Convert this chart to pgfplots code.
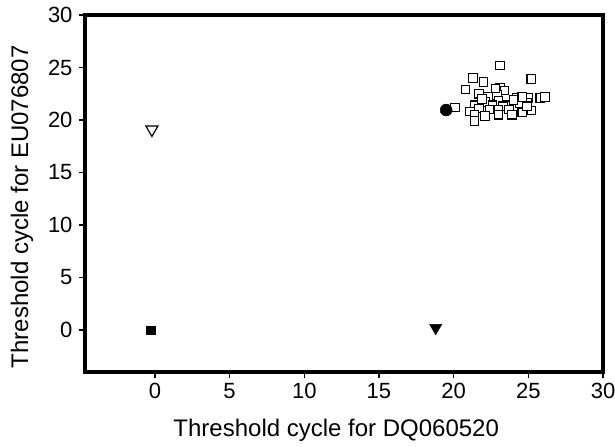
\documentclass[border=0pt]{standalone}
\usepackage{fontspec}
\setmainfont{Liberation Sans}
\usepackage{pgfplots}
\pgfplotsset{compat=1.18}

\begin{document}
\begin{tikzpicture}
\begin{axis}[
    scale only axis,
    width=518bp, height=357bp,
    xmin=-4.68, xmax=30,
    ymin=-4, ymax=30,
    xtick={0,5,...,30}, ytick={0,5,...,30},
    tick align=outside,
    xtick pos=bottom, ytick pos=left,
    major tick length=6bp,
    every tick/.style={black, line width=1.3bp},
    axis line style={line width=3.8bp},
    /pgf/number format/assume math mode=true,
    tick label style={font=\fontsize{22bp}{24bp}\selectfont},
    label style={font=\fontsize{24bp}{27bp}\selectfont},
    xticklabel style={yshift=-2bp},
    yticklabel style={xshift=-3bp},
    xlabel={Threshold cycle for DQ060520},
    ylabel={Threshold cycle for EU076807},
    xlabel style={at={(axis description cs:0.485,-0.162)}, anchor=center},
    ylabel style={at={(axis description cs:-0.122,0.463)}, anchor=center},
]
% sample cluster (open squares)
\addplot[only marks, mark=square*, mark size=4.3bp,
    mark options={draw=black, fill=white, line width=1.1bp}] coordinates {
(23.1,25.2) (21.3,24.0) (22.0,23.6) (20.8,22.9) (25.2,23.9)
(20.1,21.2) (21.7,22.5) (23.1,23.1) (23.4,22.8) (22.9,22.4)
(22.3,22.2) (24.2,22.1) (25.0,22.1) (25.8,22.1) (26.1,22.2)
(21.4,21.4) (22.1,21.7) (23.0,21.8) (23.6,21.4) (24.4,21.6)
(24.9,21.6) (22.6,21.4) (24.0,21.9) (23.3,21.3) (21.1,20.8)
(21.7,21.1) (22.4,21.0) (23.0,21.0) (23.7,21.0) (24.6,20.7)
(25.2,20.9) (21.4,20.5) (22.1,20.4) (23.0,20.5) (21.4,19.9)
(22.8,23.0) (24.6,22.2) (21.9,22.0) (23.9,20.5) (24.9,21.3)
};
% filled circle
\addplot[only marks, mark=*, mark size=6bp, black] coordinates {(19.5,20.95)};
% open down triangle
\addplot[only marks, mark=triangle, mark size=7bp,
    mark options={rotate=180, draw=black, fill=white, line width=1.2bp}] coordinates {(-0.2,19.1)};
% filled down triangle
\addplot[only marks, mark=triangle*, mark size=7bp,
    mark options={rotate=180, draw=black, fill=black}] coordinates {(18.8,0.2)};
% filled square
\addplot[only marks, mark=square*, mark size=4.3bp, black] coordinates {(-0.3,0)};
\coordinate (sw) at (rel axis cs:0,0);
\coordinate (ne) at (rel axis cs:1,1);
\end{axis}
\pgfresetboundingbox
\path[use as bounding box] ([xshift=-85bp,yshift=-75bp]sw) rectangle ([xshift=12bp,yshift=15bp]ne);
\end{tikzpicture}
\end{document}
